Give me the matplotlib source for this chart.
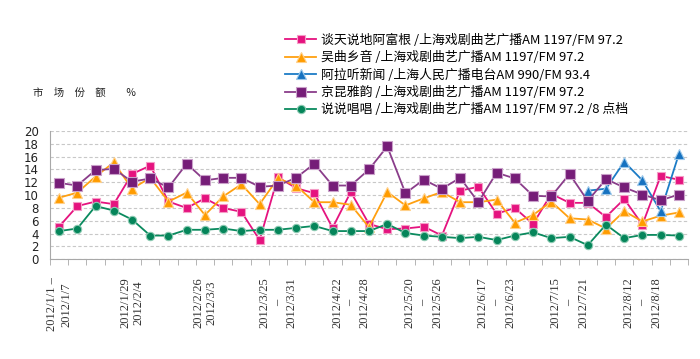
"""
Weekly market share of Shanghai opera / news radio programmes, 2012.
"""

import matplotlib.pyplot as plt
import numpy as np
import pandas as pd

nan = np.nan

# weekly categories: 2012/1/1 ... 2012/8/26 (35 weeks)
weeks = [f"{d.year}/{d.month}/{d.day}" for d in pd.date_range("2012-01-01", periods=35, freq="7D")]

# labels shown under every 4th week
tick_labels = [
    "2012/1/1 –\n2012/1/7",
    "2012/1/29\n2012/2/4",
    "2012/2/26\n2012/3/3",
    "2012/3/25\n–\n2012/3/31",
    "2012/4/22\n–\n2012/4/28",
    "2012/5/20\n–\n2012/5/26",
    "2012/6/17\n–\n2012/6/23",
    "2012/7/15\n–\n2012/7/21",
    "2012/8/12\n–\n2012/8/18",
]

names = [
    "谈天说地阿富根 /上海戏剧曲艺广播AM 1197/FM 97.2",
    "吴曲乡音 /上海戏剧曲艺广播AM 1197/FM 97.2",
    "阿拉听新闻 /上海人民广播电台AM 990/FM 93.4",
    "京昆雅韵 /上海戏剧曲艺广播AM 1197/FM 97.2",
    "说说唱唱 /上海戏剧曲艺广播AM 1197/FM 97.2 /8 点档",
]

tantian = [5.1, 8.3, 9.0, 8.6, 13.3, 14.6, 9.0, 8.0, 9.5, 8.0, 7.4, 3.0, 12.8, 11.1, 10.3,
           4.9, 10.5, 5.5, 4.7, 4.8, 5.1, 3.7, 10.7, 11.3, 7.1, 8.0, 5.5, 10.2, 8.8, 8.8,
           6.6, 9.4, 5.4, 13.0, 12.4]
wuqu = [9.6, 10.4, 12.9, 15.1, 11.0, 12.7, 9.0, 10.4, 6.9, 9.8, 11.7, 8.6, 12.6, 11.5, 8.9,
        8.9, 8.5, 5.0, 10.5, 8.4, 9.5, 10.5, 8.9, 8.9, 9.3, 5.7, 6.9, 9.0, 6.4, 6.2,
        4.8, 7.5, 5.9, 6.8, 7.3]
alating = [nan] * 29 + [10.7, 11.0, 15.2, 12.3, 7.5, 16.4]
jingkun = [11.9, 11.5, 13.9, 14.1, 12.1, 12.6, 11.2, 14.9, 12.3, 12.7, 12.7, 11.3, 11.5, 12.7, 14.9,
           11.5, 11.5, 14.0, 17.6, 10.3, 12.4, 11.0, 12.7, 8.9, 13.5, 12.6, 9.9, 9.8, 13.3, 9.1,
           12.5, 11.2, 10.1, 9.2, 10.1]
shuoshuo = [4.4, 4.8, 8.3, 7.6, 6.2, 3.7, 3.7, 4.6, 4.6, 4.8, 4.4, 4.6, 4.6, 4.9, 5.2,
            4.4, 4.4, 4.4, 5.5, 4.1, 3.7, 3.5, 3.3, 3.5, 3.0, 3.7, 4.2, 3.3, 3.5, 2.2,
            5.4, 3.3, 3.8, 3.8, 3.7]

# (line colour, marker, marker face, marker edge, marker size)
STYLES = [
    ('#e5137f', 's', '#e5137f', '#f59cc6', 6.0),
    ('#ffa010', '^', '#ff9c00', '#ffd08a', 7.5),
    ('#1c7cc6', '^', '#1672c0', '#9cc8ea', 7.5),
    ('#8a3d8a', 's', '#761d78', '#c9a0c9', 7.5),
    ('#0a8a5e', 'o', '#05855a', '#8ccab2', 6.0),
]
GRID_COLOR = '#c8c8c8'
AXIS_COLOR = '#a8a8a8'
CJK = ['Noto Sans CJK SC', 'DejaVu Sans']

fig = plt.figure(figsize=(7, 3.59), dpi=100)
ax = fig.add_axes([50 / 700, 1 - 259.3 / 359, 638 / 700, 128.3 / 359])

x = np.arange(len(weeks))
series = [tantian, wuqu, alating, jingkun, shuoshuo]
for vals, name, (lc, mk, mf, me, ms) in zip(series, names, STYLES):
    ax.plot(x, vals, color=lc, linewidth=1.3, marker=mk, markersize=ms,
            markerfacecolor=mf, markeredgecolor=me, markeredgewidth=0.8,
            label=name, zorder=3)

ax.set_xlim(-0.5, len(weeks) - 0.5)
ax.set_ylim(0, 20)
ax.set_yticks(np.arange(0, 21, 2))
ax.yaxis.grid(True, linestyle=(0, (3, 2)), color=GRID_COLOR, linewidth=0.8)
ax.set_axisbelow(True)
ax.tick_params(axis='y', length=0, pad=8, labelsize=8.5, labelcolor='#222222')

# category boundaries carry the tick marks, labels sit at every 4th week
ax.set_xticks(np.arange(-0.5, len(weeks)), minor=True)
ax.set_xticks(x[::4])
ax.set_xticklabels(tick_labels, rotation=90, fontsize=9, family='Liberation Serif',
                   color='#333333', ha='center', va='top', multialignment='center')
ax.tick_params(axis='x', which='major', length=0, pad=13)
ax.tick_params(axis='x', which='minor', length=4, color=AXIS_COLOR)

for side in ('top', 'right'):
    ax.spines[side].set_visible(False)
for side in ('left', 'bottom'):
    ax.spines[side].set_color(AXIS_COLOR)

fig.text(33 / 700, 1 - 93 / 359, "市　场　份　额　　%", fontsize=7.5, family=CJK,
         ha='left', va='center', color='#222222')

leg = fig.legend(loc='upper left', bbox_to_anchor=(285 / 700, 1 - 34 / 359),
                 frameon=False, prop={'family': CJK, 'size': 9.3},
                 handlelength=2.4, handletextpad=0.4, labelspacing=0.33,
                 borderpad=0, borderaxespad=0)

fig.savefig('out.png', dpi=100)
